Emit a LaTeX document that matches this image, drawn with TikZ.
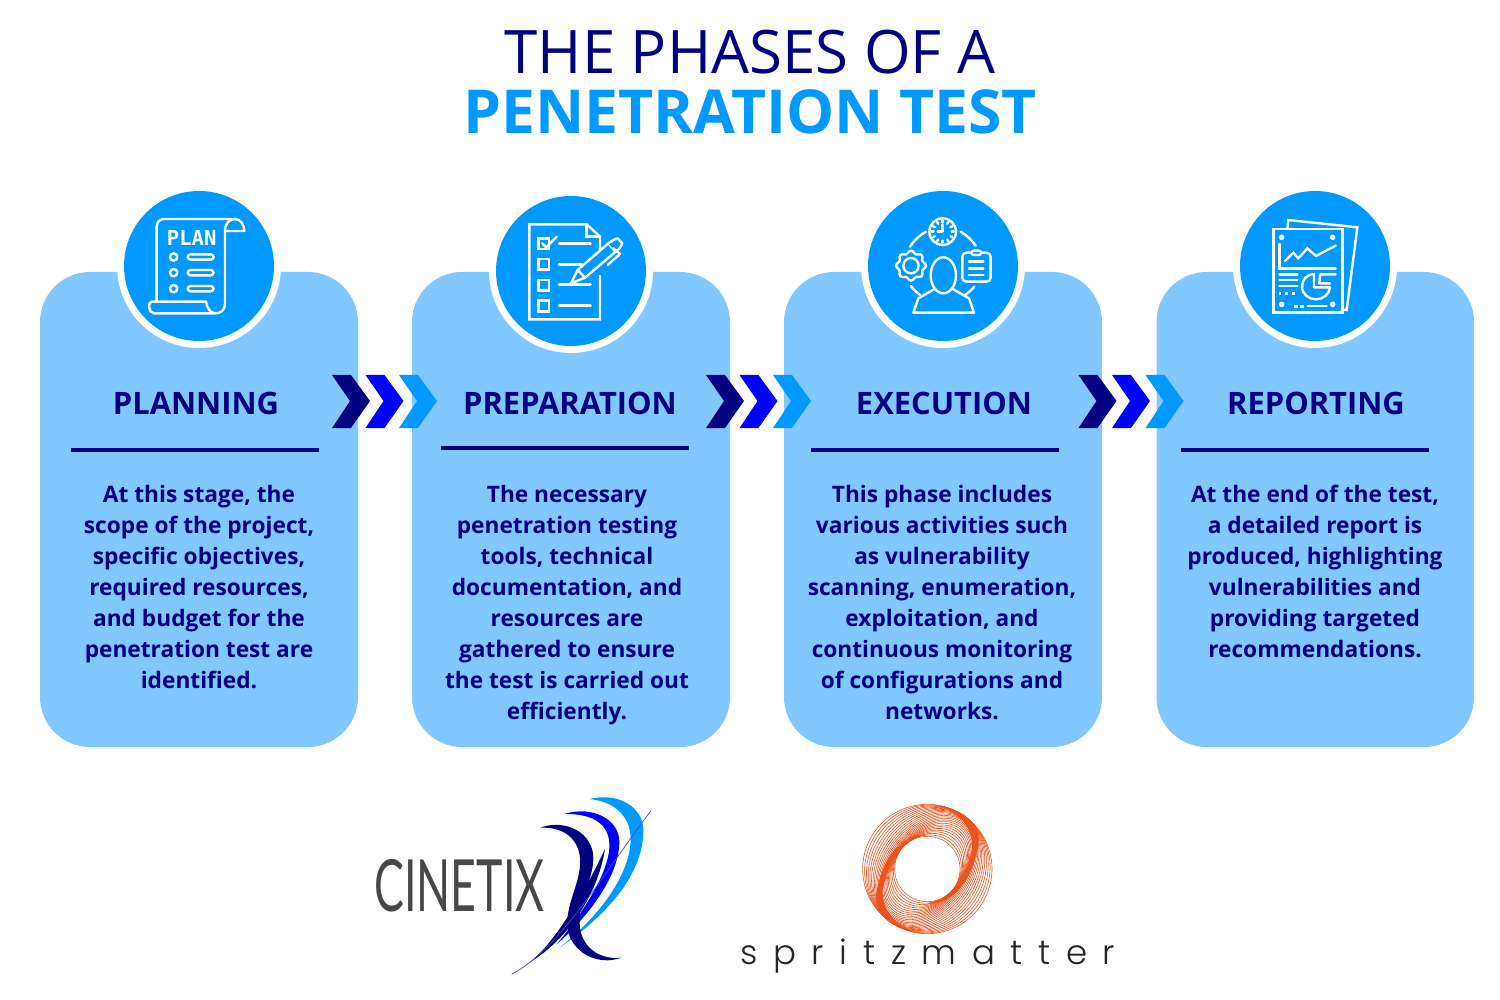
\documentclass[tikz,border=0pt]{standalone}
\usetikzlibrary{calc}
\usepackage{fontspec}
\setmainfont{Open Sans}
\newfontfamily\logofont{Lato}
\newfontfamily\spritzfont[LetterSpace=46]{Poppins Light}
\newfontfamily\planfont{DejaVu Sans Mono}
\definecolor{navyc}{HTML}{000080}
\definecolor{bluec}{HTML}{0000FF}
\definecolor{skyc}{HTML}{0099FF}
\definecolor{cardc}{HTML}{80C8FF}
\definecolor{spritz}{HTML}{E8541E}
\tikzset{
  card/.style={fill=cardc,rounded corners=25pt},
  ringc/.style={circle,fill=white,minimum size=82pt,inner sep=0},
  disc/.style={circle,fill=skyc,minimum size=75pt,inner sep=0},
  headt/.style={font=\bfseries\fontsize{15.45}{19}\selectfont,text=navyc,inner sep=0},
  bodyt/.style={font=\bfseries\fontsize{11.35}{15.5}\selectfont,text=navyc,inner sep=0,align=center,anchor=north},
  rulel/.style={navyc,line width=2pt},
  ico/.style={draw=white,line width=1.2pt,line join=round,line cap=round},
  zoomed/.style={x=0.16667pt,y=-0.16667pt}
}
\newcommand{\chevs}[1]{%
 \begin{scope}[shift={(#1,0)}]
  \fill[navyc] (332,375)--(351,375)--(370,401)--(351,428)--(332,428)--(350,401)--cycle;
  \fill[bluec] (365.5,375)--(384.5,375)--(403.5,401)--(384.5,428)--(365.5,428)--(383.5,401)--cycle;
  \fill[skyc] (399,375)--(418,375)--(437,401)--(418,428)--(399,428)--(417,401)--cycle;
 \end{scope}}
\newcommand{\spritzband}{\fill[spritz] (620,33) .. controls (700,40) and (755,90) .. (745,150) .. controls (732,230) and (685,328) .. (592,326) .. controls (670,310) and (712,235) .. (726,160) .. controls (730,100) and (690,50) .. (620,33) -- cycle;}
\begin{document}
\begin{tikzpicture}[x=0.5pt,y=-0.5pt]
\useasboundingbox (0,0) rectangle (1500,1000);
\fill[white] (0,0) rectangle (1500,1000);
\node[font=\fontsize{30}{36}\selectfont,text=navyc,inner sep=0,anchor=base] (t1) at (750,74) {THE PHASES OF A};
\node[font=\bfseries\fontsize{30.3}{36}\selectfont,text=skyc,inner sep=0,anchor=base] (t2) at (750,134) {PENETRATION TEST};

\fill[card] (40,272) rectangle (358,747);
\fill[card] (412,272) rectangle (730,747);
\fill[card] (784,272) rectangle (1102,747);
\fill[card] (1156.5,272) rectangle (1474,747);

\node[ringc] (r1) at (199,266) {}; \node[disc] (d1) at (199,266) {};
\node[ringc] (r2) at (571,271) {}; \node[disc] (d2) at (571,271) {};
\node[ringc] (r3) at (943,266) {}; \node[disc] (d3) at (943,266) {};
\node[ringc] (r4) at (1315,266) {}; \node[disc] (d4) at (1315,266) {};

\chevs{0}\chevs{374}\chevs{746.5}

\node[headt] (h1) at (196,403.5) {PLANNING};
\node[headt] (h2) at (570,403.5) {PREPARATION};
\node[headt] (h3) at (944,403.5) {EXECUTION};
\node[headt] (h4) at (1316,403.5) {REPORTING};
\draw[rulel] (71,450) -- (319,450);
\draw[rulel] (441,448) -- (689,448);
\draw[rulel] (811,450) -- (1059,450);
\draw[rulel] (1181,450) -- (1429,450);

\node[bodyt] (b1) at (199,484.5) {At this stage, the\\scope of the project,\\specific objectives,\\required resources,\\and budget for the\\penetration test are\\identified.};
\node[bodyt] (b2) at (567,484.5) {The necessary\\penetration testing\\tools, technical\\documentation, and\\resources are\\gathered to ensure\\the test is carried out\\efficiently.};
\node[bodyt] (b3) at (942,484.5) {This phase includes\\various activities such\\as vulnerability\\scanning, enumeration,\\exploitation, and\\continuous monitoring\\of configurations and\\networks.};
\node[bodyt] (b4) at (1315,484.5) {At the end of the test,\\a detailed report is\\produced, highlighting\\vulnerabilities and\\providing targeted\\recommendations.};

% icon 1: plan scroll
\begin{scope}[shift={(110,180)},zoomed]
 \draw[ico] (140,362) -- (140,140) .. controls (140,125) and (150,117) .. (165,117) -- (375,117)
   .. controls (392,117) and (403,135) .. (403,153) -- (345,153) -- (345,372)
   .. controls (345,390) and (332,400) .. (318,400) .. controls (300,400) and (292,385) .. (288,365) -- (125,365)
   .. controls (112,365) and (115,400) .. (132,400) -- (318,400);
 \draw[ico] (345,153) .. controls (345,130) and (358,117) .. (375,117);
 \node[font=\planfont\bfseries\fontsize{10.3}{12}\selectfont,text=white,inner sep=0] (plan) at (245,174) {PLAN};
 \foreach \yy in {231,278,326} {
  \draw[ico] (191,\yy) circle (11);
  \draw[ico,rounded corners=1.5pt] (233,\yy-8) rectangle (311,\yy+8);
 }
\end{scope}

% icon 2: checklist
\begin{scope}[shift={(485,185)},zoomed]
 \draw[ico,line cap=butt,line join=miter] (345,225) -- (345,155) -- (305,118) -- (133,118) -- (133,403) -- (345,403) -- (345,270);
 \draw[ico,line join=miter] (305,118) -- (305,155) -- (345,155);
 \foreach \yy in {160,222,285,347} \draw[ico,line join=miter] (160,\yy) rectangle (192,\yy+32);
 \draw[ico] (172,175) -- (183,187) -- (215,155);
 \draw[ico] (222,175) -- (317,175);
 \draw[ico] (222,238) -- (290,238);
 \draw[ico] (222,299) -- (317,299);
 \draw[ico] (222,362) -- (317,362);
 \draw[ico,fill=skyc] (258,295) -- (278,255) -- (370,175) -- (392,200) -- (300,278) -- cycle;
 \draw[ico] (278,255) .. controls (285,262) and (292,270) .. (300,278);
 \draw[ico,fill=skyc] (370,175) -- (385,165) -- (398,160) -- (412,175) -- (404,190) -- (392,200);
 \draw[ico] (385,190) -- (405,207) -- (368,240);
\end{scope}

% icon 3: person and tasks
\begin{scope}[shift={(855,180)},zoomed]
 \draw[ico] (263,155) circle (40);
 \foreach \ang in {0,30,...,330} \draw[ico] ($(263,155)+(\ang:33)$) -- ($(263,155)+(\ang:27)$);
 \draw[ico] (263,135) -- (263,155) -- (248,155);
 \draw[ico] (165,200) .. controls (178,180) and (195,165) .. (213,155);
 \draw[ico] (317,155) .. controls (335,165) and (350,180) .. (362,197);
 \draw[ico] (168,318) .. controls (175,328) and (185,338) .. (195,345);
 \draw[ico] (330,345) .. controls (340,338) and (350,330) .. (358,320);
 \draw[ico] plot[smooth cycle,samples=48,domain=0:352.5,variable=\ang] ({168+(41+4*cos(8*\ang))*cos(\ang)},{257+(41+4*cos(8*\ang))*sin(\ang)});
 \draw[ico] (168,257) circle (23);
 \draw[ico,rounded corners=2pt] (322,218) rectangle (407,305);
 \draw[ico,fill=skyc,rounded corners=1pt] (350,212) rectangle (378,225);
 \foreach \yy in {245,265,285} \draw[ico] (342,\yy) -- (385,\yy);
 \draw[ico] (265,286) ellipse (38 and 54);
 \draw[ico] (237,328) -- (190,355) -- (175,398) -- (357,398) -- (342,355) -- (295,328);
\end{scope}

% icon 4: report
\begin{scope}[shift={(1230,180)},zoomed]
 \draw[ico,line join=miter] (172,147) -- (175,120) -- (382,142) -- (350,390) -- (335,388);
 \draw[ico,line join=miter] (130,147) rectangle (338,398);
 \foreach \p in {(155,172),(308,172),(155,373),(308,373)} \fill[white] \p circle (8.5);
 \draw[ico,line join=miter] (148,192) -- (148,265) -- (317,265);
 \draw[ico,line join=miter] (165,243) -- (190,218) -- (205,235) -- (232,205) -- (258,228) -- (317,197);
 \foreach \yy in {283,300,318} \draw[ico] (148,\yy) -- (202,\yy);
 \foreach \xx in {150,170,190} \fill[white] (\xx-4,336) rectangle (\xx+4,344);
 \draw[ico] (252,282) .. controls (228,284) and (216,302) .. (216,320) .. controls (216,342) and (236,358) .. (258,358) .. controls (280,358) and (298,342) .. (300,322) -- (252,322) -- cycle;
 \draw[ico] (317,283) -- (270,283) -- (268,310) -- (300,310);
 \fill[white] (193,374) rectangle (203,383);
 \fill[white] (211,374) rectangle (221,383);
 \draw[ico] (233,378) -- (290,378);
\end{scope}

% CINETIX logo
\node[font=\logofont\fontsize{36}{40}\selectfont,text={black!72},inner sep=0,anchor=base west] (cinetix) at (374,911) {\scalebox{0.62}[1]{CINETIX}};
\begin{scope}[shift={(360,785)},zoomed]
 \fill[skyc] (688,42) .. controls (780,20) and (850,70) .. (850,135) .. controls (850,270) and (740,390) .. (600,487)
   .. controls (710,400) and (805,280) .. (812,170) .. controls (815,100) and (770,50) .. (688,42) -- cycle;
 \fill[bluec] (612,87) .. controls (700,60) and (778,105) .. (778,170) .. controls (778,270) and (690,390) .. (590,478)
   .. controls (670,380) and (742,270) .. (748,190) .. controls (752,125) and (710,85) .. (612,87) -- cycle;
 \fill[navyc] (505,535) .. controls (580,480) and (670,330) .. (735,192) .. controls (715,320) and (630,460) .. (505,535) -- cycle;
 \fill[navyc] (540,128) .. controls (620,100) and (700,145) .. (700,220) .. controls (700,290) and (650,340) .. (660,430)
   .. controls (670,490) and (720,525) .. (785,518) .. controls (710,545) and (630,500) .. (622,425)
   .. controls (618,350) and (665,290) .. (660,220) .. controls (655,160) and (610,125) .. (540,128) -- cycle;
 \draw[navyc!70!white,line width=0.35pt] (455,568) .. controls (600,490) and (720,280) .. (873,77);
\end{scope}

% spritzmatter logo
\begin{scope}[shift={(730,795)},zoomed]
 \foreach \ringn in {0,1,...,24} {
  \pgfmathsetmacro{\rrad}{98+\ringn*96/24}
  \pgfmathsetmacro{\ddev}{29*sin(\ringn*7.5)}
  \pgfmathsetmacro{\rota}{46+\ringn*14/24}
  \begin{scope}[shift={(592,222)},rotate=\rota]
   \draw[spritz,line width=0.3pt] (0,0) ellipse ({\rrad+\ddev} and {\rrad-\ddev});
  \end{scope}
 }
 \spritzband
 \begin{scope}[rotate around={180:(592,222)}]
  \spritzband
 \end{scope}
 \fill[white] (592,222) circle (96);
\end{scope}
\node[font=\spritzfont\fontsize{17}{20}\selectfont,text={black!85},inner sep=0,anchor=base west] (spritzname) at (740,964) {spritzmatter};
\end{tikzpicture}
\end{document}
